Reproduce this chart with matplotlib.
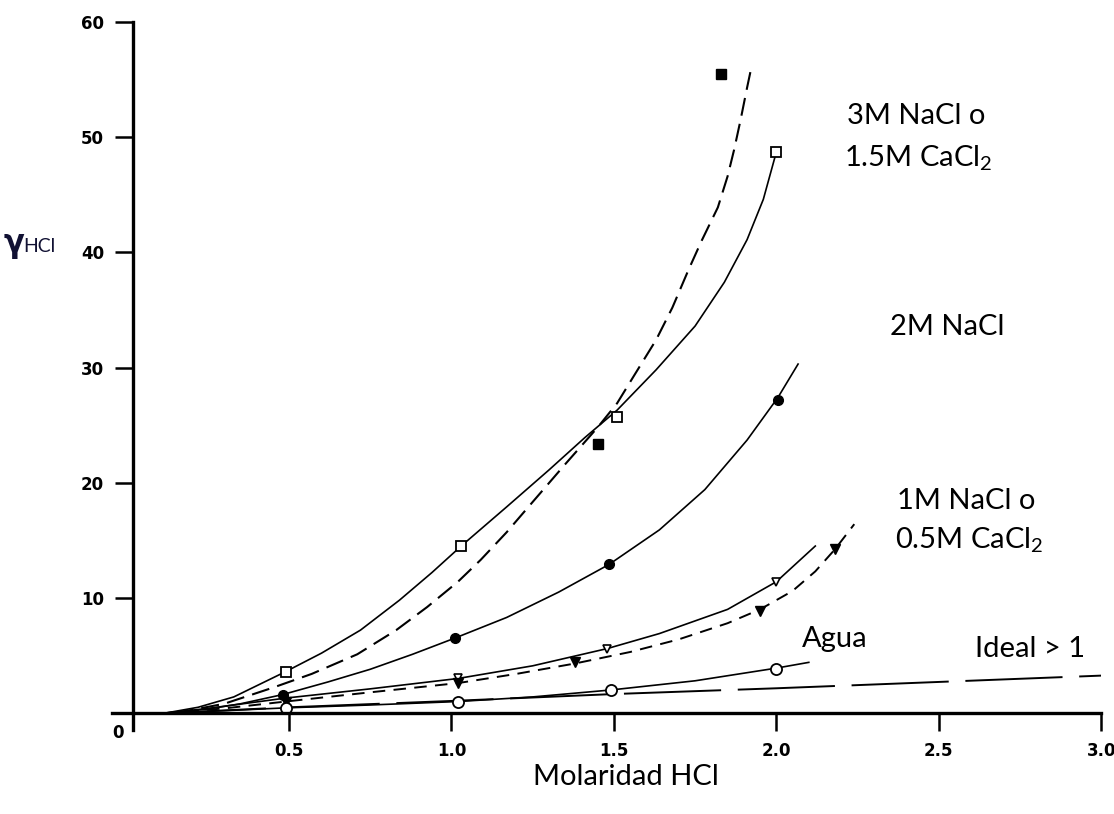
#!/usr/bin/env python3
"""Activity coefficient of HCl vs HCl molarity in salt solutions."""

import matplotlib
matplotlib.use("Agg")
import matplotlib.pyplot as plt

plt.rcParams["mathtext.fontset"] = "custom"
plt.rcParams["mathtext.rm"] = "Lato"
plt.rcParams["lines.scale_dashes"] = False

LABEL_FONT = ["Lato", "DejaVu Sans"]

# Curves: (molarity HCl, gamma HCl)
nacl3_x = [0.12, 0.22, 0.33, 0.49, 0.60, 0.72, 0.84, 0.94, 1.03, 1.17, 1.30,
           1.41, 1.51, 1.63, 1.75, 1.84, 1.91, 1.96, 2.00]
nacl3_y = [0.0, 0.5, 1.4, 3.6, 5.2, 7.2, 9.8, 12.2, 14.5, 17.9, 21.1,
           23.9, 26.3, 29.8, 33.6, 37.4, 41.1, 44.6, 48.7]

cacl15_x = [0.15, 0.30, 0.45, 0.57, 0.71, 0.83, 0.925, 1.02, 1.09, 1.17, 1.24,
            1.35, 1.45, 1.51, 1.56, 1.63, 1.68, 1.73, 1.77, 1.82, 1.85, 1.87,
            1.89, 1.91, 1.925]
cacl15_y = [0.0, 0.8, 2.2, 3.4, 5.1, 7.2, 9.2, 11.4, 13.3, 15.7, 18.0,
            21.6, 24.8, 26.9, 29.2, 32.4, 35.2, 38.5, 41.0, 43.9, 46.6, 48.9,
            51.5, 54.3, 56.3]

nacl2_x = [0.13, 0.25, 0.35, 0.48, 0.62, 0.75, 0.88, 1.01, 1.17, 1.33, 1.485,
           1.64, 1.78, 1.91, 2.005, 2.067]
nacl2_y = [0.0, 0.35, 0.8, 1.6, 2.7, 3.8, 5.1, 6.5, 8.3, 10.5, 12.9,
           15.9, 19.4, 23.7, 27.4, 30.3]

nacl1_x = [0.12, 0.25, 0.49, 0.75, 1.02, 1.25, 1.48, 1.64, 1.85, 2.00, 2.12]
nacl1_y = [0.0, 0.4, 1.3, 2.1, 3.0, 4.1, 5.6, 6.9, 9.0, 11.4, 14.5]

cacl05_x = [0.12, 0.30, 0.49, 0.75, 1.02, 1.20, 1.38, 1.55, 1.70, 1.85, 1.95,
            2.05, 2.12, 2.18, 2.24]
cacl05_y = [0.0, 0.4, 1.0, 1.8, 2.6, 3.4, 4.3, 5.3, 6.4, 7.8, 9.0,
            10.6, 12.3, 14.2, 16.4]

agua_x = [0.12, 0.30, 0.49, 0.75, 1.02, 1.25, 1.49, 1.75, 2.00, 2.10]
agua_y = [0.0, 0.2, 0.45, 0.7, 1.0, 1.4, 2.0, 2.8, 3.9, 4.4]

ideal_x = [0.13, 0.5, 1.0, 1.5, 2.0, 2.5, 3.0]
ideal_y = [0.0, 0.5, 1.05, 1.65, 2.15, 2.7, 3.25]

# Measured points
sq_open_x = [0.49, 1.03, 1.51, 2.00]
sq_open_y = [3.6, 14.5, 25.7, 48.7]
sq_fill_x = [1.45, 1.83]
sq_fill_y = [23.4, 55.5]
circ_fill_x = [0.48, 1.01, 1.485, 2.005]
circ_fill_y = [1.6, 6.5, 12.9, 27.2]
tri_open_x = [1.02, 1.48, 2.00]
tri_open_y = [3.0, 5.6, 11.4]
tri_fill_x = [0.49, 1.02, 1.38, 1.95, 2.18]
tri_fill_y = [1.0, 2.6, 4.4, 8.9, 14.2]
circ_open_x = [0.49, 1.02, 1.49, 2.00]
circ_open_y = [0.45, 1.0, 2.0, 3.8]

x_ticks = [0.5, 1.0, 1.5, 2.0, 2.5, 3.0]
y_ticks = [10, 20, 30, 40, 50, 60]

W, H = 1114, 814


def fx(px):
    return px / W


def fy(py):
    return 1 - py / H


fig = plt.figure(figsize=(W / 100, H / 100), dpi=100)
ax = fig.add_axes([0.1005, 0.1028, 0.888, 0.8702])

lw = 1.2
ax.plot(nacl3_x, nacl3_y, color="black", lw=lw)
ax.plot(cacl15_x, cacl15_y, color="black", lw=lw + 0.3, dashes=(13, 6))
ax.plot(nacl2_x, nacl2_y, color="black", lw=lw)
ax.plot(nacl1_x, nacl1_y, color="black", lw=lw)
ax.plot(cacl05_x, cacl05_y, color="black", lw=lw + 0.2, dashes=(9, 6))
ax.plot(agua_x, agua_y, color="black", lw=lw)
ax.plot(ideal_x, ideal_y, color="black", lw=lw + 0.2, dashes=(70, 12))

ax.plot(sq_open_x, sq_open_y, "s", ms=7.5, mfc="white", mec="black", mew=1.3)
ax.plot(sq_fill_x, sq_fill_y, "s", ms=7, color="black")
ax.plot(circ_fill_x, circ_fill_y, "o", ms=7, color="black")
ax.plot(tri_open_x, tri_open_y, "v", ms=6, mfc="white", mec="black", mew=1.2)
ax.plot(tri_fill_x, tri_fill_y, "v", ms=6.5, color="black")
ax.plot(circ_open_x, circ_open_y, "o", ms=8, mfc="white", mec="black", mew=1.3)

ax.set_xlim(-0.045, 3.0)
ax.set_ylim(-1.5, 60)
for side in ("top", "right"):
    ax.spines[side].set_visible(False)
ax.spines["left"].set_position(("data", 0.02))
ax.spines["bottom"].set_position(("data", 0))
ax.spines["left"].set_linewidth(2.4)
ax.spines["bottom"].set_linewidth(2.4)

ax.set_xticks(x_ticks)
ax.set_xticklabels([f"{v:.1f}" for v in x_ticks])
ax.set_yticks(y_ticks)
ax.set_yticklabels([str(v) for v in y_ticks])
ax.tick_params(direction="out", length=13, width=1.8, labelsize=12, pad=8)
for lab in ax.get_xticklabels() + ax.get_yticklabels():
    lab.set_fontweight("bold")
fig.text(fx(118), fy(733), "0", fontsize=12, fontweight="bold",
         ha="center", va="center")

# curve annotations
txt = dict(fontsize=21, family=LABEL_FONT, ha="left", va="baseline")
fig.text(fx(847), fy(124), "3M NaCl o", **txt)
fig.text(fx(844), fy(166), r"1.5M CaCl$_2$", **txt)
fig.text(fx(890), fy(335), "2M NaCl", **txt)
fig.text(fx(897), fy(509), "1M NaCl o", **txt)
fig.text(fx(895), fy(548), r"0.5M CaCl$_2$", **txt)
fig.text(fx(802), fy(647), "Agua", **txt)
fig.text(fx(975), fy(657), "Ideal > 1", **txt)

fig.text(fx(626), fy(785), "Molaridad HCl", fontsize=21, family=LABEL_FONT,
         ha="center", va="baseline")
fig.text(fx(4), fy(252), "γ", fontsize=22, fontweight="bold",
         family=["DejaVu Sans"], ha="left", va="baseline", color="#111133")
fig.text(fx(23), fy(252), "HCl", fontsize=14, family=LABEL_FONT,
         ha="left", va="baseline", color="#111133")

fig.savefig("out.png", dpi=100)
